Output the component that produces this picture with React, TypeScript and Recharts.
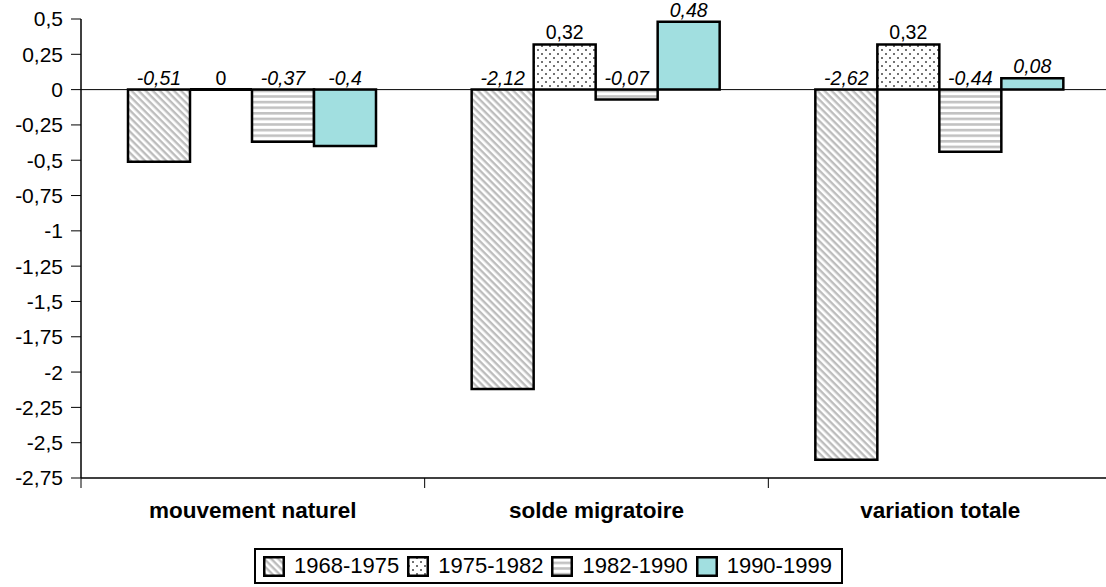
import {
  Bar,
  BarChart,
  LabelList,
  Legend,
  ReferenceLine,
  XAxis,
  YAxis,
} from "recharts";

const categories = ["mouvement naturel", "solde migratoire", "variation totale"];
const periods = ["1968-1975", "1975-1982", "1982-1990", "1990-1999"];
const values1968 = [-0.51, -2.12, -2.62];
const values1975 = [0, 0.32, 0.32];
const values1982 = [-0.37, -0.07, -0.44];
const values1990 = [-0.4, 0.48, 0.08];
const yTicks = [0.5, 0.25, 0, -0.25, -0.5, -0.75, -1, -1.25, -1.5, -1.75, -2, -2.25, -2.5, -2.75];

const seriesValues = [values1968, values1975, values1982, values1990];
const fills = ["url(#pat-diag)", "url(#pat-dots)", "url(#pat-hstripe)", "#a1dfe0"];
const italic = [true, false, true, true];

const data = categories.map((name, i) => {
  const row: Record<string, string | number> = { name };
  periods.forEach((p, k) => {
    row[p] = seriesValues[k][i];
  });
  return row;
});

const FONT = "'Liberation Sans', Arial, sans-serif";
const CHART_W = 1120;
const CHART_H = 587;
const MARGIN = { top: 19, right: 8, left: 0, bottom: 3 };
const Y_W = 81;
const BAND = (CHART_W - Y_W - MARGIN.left - MARGIN.right) / categories.length;

const fmt = (v: number) => String(v).replace(".", ",");

const BarShape = (props: any) => {
  const { x, y, width, height, fill } = props;
  const top = Math.min(y, y + height);
  const h = Math.abs(height);
  if (h <= 1.01) {
    // zero value: only a thick outline on the zero line
    const zy = Math.max(y, y + height);
    return (
      <line x1={x} y1={zy} x2={x + width} y2={zy} stroke="#000" strokeWidth={3} />
    );
  }
  return (
    <path
      d={`M${x},${top}h${width}v${h}h${-width}Z`}
      fill={fill}
      stroke="#000"
      strokeWidth={2.5}
    />
  );
};

const makeLabel = (isItalic: boolean) => (props: any) => {
  const { x, y, width, height, value } = props;
  const y0 = Number(y);
  const y1 = Number(y) + Number(height);
  const top = value === 0 ? Math.max(y0, y1) : Math.min(y0, y1);
  return (
    <text
      x={Number(x) + Number(width) / 2}
      y={top - 5}
      textAnchor="middle"
      fontSize={19.5}
      fontStyle={isItalic ? "italic" : "normal"}
      fontFamily={FONT}
      fill="#000"
    >
      {fmt(value)}
    </text>
  );
};

const CategoryTick = (props: any) => {
  const { x, y, payload } = props;
  const half = BAND / 2;
  return (
    <g>
      <line x1={x - half} y1={y} x2={x - half} y2={y + 10} stroke="#000" strokeWidth={1} />
      <text
        x={x}
        y={y + 40}
        textAnchor="middle"
        fontSize={22.5}
        fontWeight="bold"
        fontFamily={FONT}
        fill="#000"
      >
        {payload.value}
      </text>
    </g>
  );
};

const LegendContent = () => (
  <div
    style={{
      display: "inline-flex",
      alignItems: "center",
      boxSizing: "border-box",
      height: 36,
      border: "2px solid #000",
      padding: "0 9px 0 7px",
      background: "#fff",
      fontFamily: FONT,
      fontSize: 22,
      color: "#000",
    }}
  >
    {periods.map((p, k) => (
      <div key={p} style={{ display: "flex", alignItems: "center", marginRight: k < periods.length - 1 ? 8 : 0 }}>
        <svg width={22} height={21} style={{ display: "block" }}>
          <rect x={1.25} y={1.25} width={19.5} height={18.5} fill={fills[k]} stroke="#000" strokeWidth={2.5} />
        </svg>
        <span style={{ marginLeft: 9, lineHeight: "24px" }}>{p}</span>
      </div>
    ))}
  </div>
);

export default function App() {
  return (
    <div style={{ width: 1106, height: 587, overflow: "hidden", position: "relative", background: "#fff" }}>
      <style>{"body{margin:0}"}</style>
      <BarChart
        width={CHART_W}
        height={CHART_H}
        data={data}
        margin={MARGIN}
        barGap={0}
        barCategoryGap={47}
        style={{ fontFamily: FONT }}
      >
        <defs>
          <pattern id="pat-diag" patternUnits="userSpaceOnUse" width={5} height={5} patternTransform="rotate(45)">
            <rect width={5} height={5} fill="#fff" />
            <rect width={5} height={2.4} fill="#bdbdbd" />
          </pattern>
          <pattern id="pat-dots" patternUnits="userSpaceOnUse" width={8} height={8}>
            <rect width={8} height={8} fill="#fff" />
            <circle cx={2} cy={2} r={1} fill="#444" />
            <circle cx={6} cy={6} r={1} fill="#444" />
          </pattern>
          <pattern id="pat-hstripe" patternUnits="userSpaceOnUse" width={6} height={5.6}>
            <rect width={6} height={5.6} fill="#fff" />
            <rect width={6} height={2.6} fill="#c2c2c2" />
          </pattern>
        </defs>
        <XAxis
          dataKey="name"
          height={70}
          axisLine={{ stroke: "#000", strokeWidth: 1.5 }}
          tickLine={false}
          tickSize={0}
          tickMargin={0}
          tick={<CategoryTick />}
          interval={0}
        />
        <YAxis
          width={Y_W}
          domain={[-2.75, 0.5]}
          ticks={yTicks}
          interval={0}
          allowDataOverflow
          tickFormatter={fmt}
          axisLine={{ stroke: "#000", strokeWidth: 1.5 }}
          tickLine={{ stroke: "#000" }}
          tickSize={10}
          tickMargin={8}
          tick={{ fill: "#000", fontSize: 21, fontFamily: FONT }}
        />
        <ReferenceLine y={0} stroke="#000" strokeWidth={1} />
        <Legend
          verticalAlign="bottom"
          align="left"
          content={<LegendContent />}
          wrapperStyle={{ left: 254, bottom: 3, width: "auto" }}
        />
        {periods.map((p, k) => (
          <Bar
            key={p}
            dataKey={p}
            fill={fills[k]}
            shape={<BarShape />}
            minPointSize={1}
            isAnimationActive={false}
          >
            <LabelList dataKey={p} content={makeLabel(italic[k])} />
          </Bar>
        ))}
      </BarChart>
    </div>
  );
}
